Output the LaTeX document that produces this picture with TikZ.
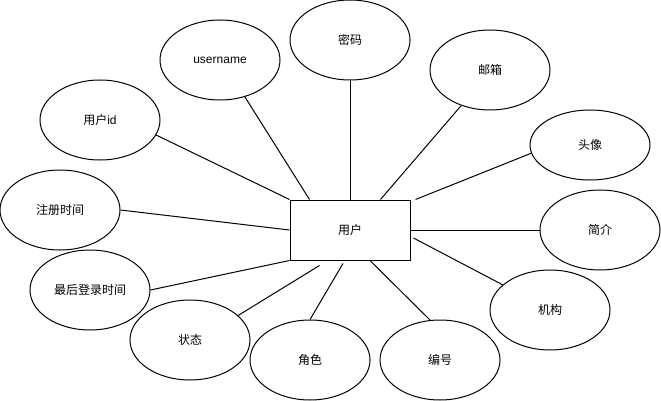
\documentclass[tikz,border=0pt]{standalone}
\usepackage{fontspec}
\setmainfont{Liberation Sans}
\newfontfamily\cjk{Noto Sans CJK SC}
\usetikzlibrary{shapes.geometric}

\begin{document}
\begin{tikzpicture}[x=1pt,y=-1pt,line width=1pt,
    attr/.style = {draw, ellipse, minimum width=120pt, minimum height=80pt, inner sep=0pt, font=\fontsize{12}{14}\selectfont},
    entity/.style = {draw, rectangle, minimum width=120pt, minimum height=60pt, inner sep=0pt, font=\fontsize{12}{14}\selectfont}]
    \useasboundingbox (0,0) rectangle (661,401);
    \node[entity] (user) at (350,230) {\cjk 用户};

    \node[attr] (uid) at (100,120) {{\cjk 用户}id};
    \node[attr] (uname) at (220,60) {username};
    \node[attr] (pwd) at (350,40) {\cjk 密码};
    \node[attr] (mail) at (490,70) {\cjk 邮箱};
    \node[attr, minimum height=70pt] (avatar) at (590,145) {\cjk 头像};
    \node[attr] (intro) at (600,230) {\cjk 简介};
    \node[attr] (org) at (550,310) {\cjk 机构};
    \node[attr] (num) at (440,360) {\cjk 编号};
    \node[attr] (role) at (310,360) {\cjk 角色};
    \node[attr] (state) at (190,340) {\cjk 状态};
    \node[attr] (lastlogin) at (90,290) {\cjk 最后登录时间};
    \node[attr] (regtime) at (60,210) {\cjk 注册时间};

    \draw (uid.-15) -- (user.north west);
    \draw (uname.-56) -- ([xshift=20pt]user.north west);
    \draw (pwd.south) -- (user.north);
    \draw (mail.-129) -- ([xshift=-30pt]user.north east);
    \draw (avatar.188) -- ([xshift=5pt]user.north east);
    \draw (intro.west) -- (user.east);
    \draw (org.152) -- ([xshift=3pt,yshift=-8pt]user.east);
    \draw (num.104) -- ([xshift=20pt]user.south);
    \draw (role.north) -- ([xshift=-7pt,yshift=-3pt]user.south);
    \draw (state.27) -- ([xshift=30pt,yshift=-5pt]user.south west);
    \draw (lastlogin.east) -- (user.south west);
    \draw (regtime.east) -- (user.west);
\end{tikzpicture}
\end{document}
